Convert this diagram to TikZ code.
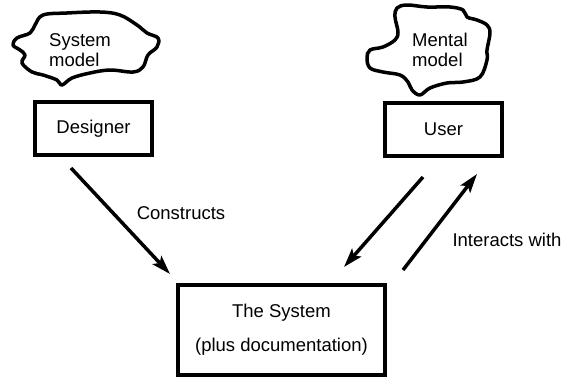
\documentclass[tikz,border=0pt]{standalone}
\usepackage{fontspec}
\setmainfont{Liberation Sans}
\usetikzlibrary{arrows.meta}

\begin{document}
\begin{tikzpicture}[x=1pt,y=-1pt,
    every node/.style={font=\fontsize{18.5}{20}\selectfont},
    rolebox/.style={draw,line width=4pt,minimum width=117pt,minimum height=53pt},
    cloudline/.style={line width=3.5pt,line join=round},
    flow/.style={line width=3.5pt,-{Stealth[length=19pt,width=12pt,inset=4pt]}}]
\useasboundingbox (0,0) rectangle (566,378);

% Clouds
\draw[cloudline] plot[smooth cycle,tension=0.6] coordinates {
  (35,25) (43,15) (67,13) (100,12) (120,15) (137,25) (147,33) (158,38)
  (157,47) (148,55) (143,67) (133,72) (110,70) (90,73) (72,78) (62,85)
  (57,80) (43,75) (32,72) (22,63) (25,55) (20,50) (13,45) (17,38) (30,33)};
\node[align=left] (sysmodel) at (80,50) {System\\model};

\draw[cloudline] plot[smooth cycle,tension=0.6] coordinates {
  (397,8) (407,5) (427,7) (450,7) (463,10) (467,17) (477,20) (487,25)
  (490,33) (487,50) (487,60) (480,77) (463,82) (447,83) (430,88) (420,95)
  (412,90) (408,82) (400,75) (383,72) (370,68) (367,58) (370,50) (383,47)
  (395,40) (398,32) (395,17)};
\node[align=left] (menmodel) at (440,50) {Mental\\model};

% Boxes
\node[rolebox] (designer) at (93.5,128.5) {Designer};
\node[rolebox] (user) at (443.5,129.5) {User};
\node[rolebox,minimum width=207pt,minimum height=90pt,align=center]
  (system) at (281.5,330) {The System\\[14pt](plus documentation)};

% Arrows
\coordinate (c1) at (71,168);
\coordinate (c2) at (170,274);
\coordinate (u1) at (423,177);
\coordinate (u2) at (344,267);
\coordinate (v1) at (403,270);
\coordinate (v2) at (477,174);
\draw[flow] (c1) -- (c2);
\draw[flow] (u1) -- (u2);
\draw[flow] (v1) -- (v2);

\node (constructs) at (181,213) {Constructs};
\node (interacts) at (507,240) {Interacts with};
\end{tikzpicture}
\end{document}
